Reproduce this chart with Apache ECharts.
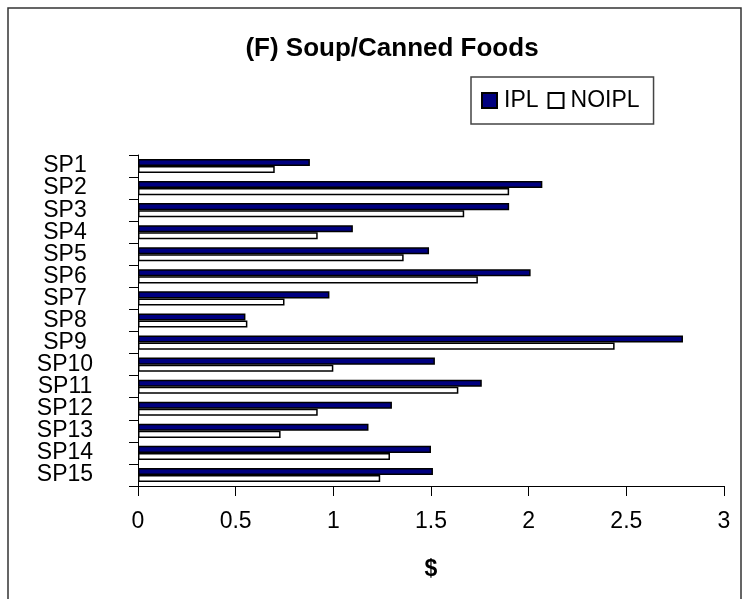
<!DOCTYPE html>
<html>
<head>
<meta charset="utf-8">
<script src="https://cdn.jsdelivr.net/npm/echarts@6/dist/echarts.min.js"></script>
<style>
html,body{margin:0;padding:0;background:#fff;}
#c{width:746px;height:599px;}
</style>
</head>
<body>
<div id="c"></div>
<script>
const categories = ['SP1','SP2','SP3','SP4','SP5','SP6','SP7','SP8','SP9','SP10','SP11','SP12','SP13','SP14','SP15'];
const ipl   = [0.88, 2.07, 1.90, 1.10, 1.49, 2.01, 0.98, 0.55, 2.79, 1.52, 1.76, 1.30, 1.18, 1.50, 1.51];
const noipl = [0.70, 1.90, 1.67, 0.92, 1.36, 1.74, 0.75, 0.56, 2.44, 1.00, 1.64, 0.92, 0.73, 1.29, 1.24];
const xTicks = [0, 0.5, 1, 1.5, 2, 2.5, 3];

const FONT = '"Liberation Sans", Arial, sans-serif';
const chart = echarts.init(document.getElementById('c'), null, {renderer: 'canvas'});
chart.setOption({
  animation: false,
  backgroundColor: '#ffffff',
  graphic: [{
    type: 'rect',
    shape: {x: 8, y: 8, width: 733, height: 620},
    style: {fill: 'none', stroke: '#333333', lineWidth: 1.5},
    silent: true
  }],
  title: {
    text: '(F) Soup/Canned Foods',
    left: 387, top: 31, textAlign: 'center',
    textStyle: {fontFamily: FONT, fontSize: 26, fontWeight: 'bold', color: '#000'}
  },
  legend: {
    left: 471, top: 77,
    orient: 'horizontal',
    padding: [12, 14, 12, 10],
    itemWidth: 15, itemHeight: 15, itemGap: 9,
    borderColor: '#444', borderWidth: 1.5,
    icon: 'rect',
    textStyle: {fontFamily: FONT, fontSize: 23, color: '#000', padding: [0, 0, 0, 2]},
    data: ['IPL', 'NOIPL']
  },
  grid: {left: 138, right: 22, top: 155, bottom: 113, containLabel: false},
  xAxis: {
    type: 'value', min: xTicks[0], max: xTicks[xTicks.length - 1], interval: 0.5,
    name: '$', nameLocation: 'middle', nameGap: 72,
    nameTextStyle: {fontFamily: FONT, fontSize: 23, fontWeight: 'bold', color: '#000'},
    axisLine: {show: true, lineStyle: {color: '#000', width: 1}},
    axisTick: {show: true, length: 10, lineStyle: {color: '#000'}},
    splitLine: {show: false},
    axisLabel: {fontFamily: FONT, fontSize: 23, color: '#000', margin: 24,
      formatter: v => xTicks.includes(v) ? String(v) : ''}
  },
  yAxis: {
    type: 'category', data: categories, inverse: true,
    axisLine: {show: true, lineStyle: {color: '#000', width: 1}},
    axisTick: {show: true, length: 9, alignWithLabel: false, interval: 0, lineStyle: {color: '#000'}},
    axisLabel: {fontFamily: FONT, fontSize: 23, color: '#000', align: 'center', margin: 73, interval: 0}
  },
  series: [
    {name: 'IPL', type: 'bar', data: ipl, barGap: '0%', barCategoryGap: '36%',
     itemStyle: {color: '#000080', borderColor: '#000', borderWidth: 1.5}},
    {name: 'NOIPL', type: 'bar', data: noipl, barGap: '0%', barCategoryGap: '36%',
     itemStyle: {color: '#ffffff', borderColor: '#000', borderWidth: 1.5}}
  ]
});
</script>
</body>
</html>
